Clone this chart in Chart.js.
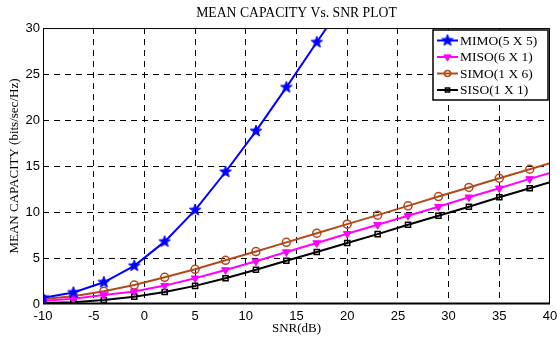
<!DOCTYPE html>
<html>
<head>
<meta charset="utf-8">
<script src="https://cdn.jsdelivr.net/npm/chart.js@4.4.0/dist/chart.umd.min.js"></script>
<style>
    html, body { margin: 0; padding: 0; background: #fff; }
    #wrap { width: 557px; height: 337px; position: relative; }
</style>
</head>
<body>
<div id="wrap"><canvas id="chart"></canvas></div>
<script>
// SNR values in dB; markers every 3 dB, lines run on to 40
const snrDb = [-10, -7, -4, -1, 2, 5, 8, 11, 14, 17, 20, 23, 26, 29, 32, 35, 38, 40];

// Mean capacity in bits/sec/Hz
const mimo5x5 = [0.68, 1.25, 2.36, 4.15, 6.78, 10.2, 14.35, 18.8, 23.55, 28.45, 33.3];
const miso6x1 = [0.36, 0.58, 0.98, 1.36, 2.0, 2.8, 3.7, 4.64, 5.65, 6.63, 7.64, 8.62, 9.6, 10.58, 11.6, 12.58, 13.6, 14.25];
const simo1x6 = [0.54, 0.84, 1.38, 2.06, 2.9, 3.77, 4.75, 5.7, 6.7, 7.7, 8.68, 9.66, 10.67, 11.68, 12.67, 13.67, 14.65, 15.3];
const siso1x1 = [0.1, 0.2, 0.43, 0.8, 1.3, 1.97, 2.8, 3.73, 4.7, 5.65, 6.63, 7.6, 8.62, 9.6, 10.58, 11.6, 12.58, 13.25];

const xTicks = [-10, -5, 0, 5, 10, 15, 20, 25, 30, 35, 40];
const yTicks = [0, 5, 10, 15, 20, 25, 30];

const serif = '"Liberation Serif", "Times New Roman", serif';
const sans = '"Liberation Sans", Arial, sans-serif';

// five-pointed star marker
function makeStar(color, r) {
    const c = document.createElement('canvas');
    const s = Math.ceil(r * 2 + 2);
    c.width = s;
    c.height = s;
    const g = c.getContext('2d');
    g.beginPath();
    for (let i = 0; i < 10; i++) {
        const rad = i % 2 === 0 ? r : r * 0.42;
        const a = -Math.PI / 2 + i * Math.PI / 5;
        g.lineTo(s / 2 + rad * Math.cos(a), s / 2 + rad * Math.sin(a));
    }
    g.closePath();
    g.fillStyle = color;
    g.fill();
    g.strokeStyle = color;
    g.lineWidth = 1;
    g.stroke();
    return c;
}
const starMark = makeStar('#0000ff', 6);

function toPoints(values) {
    return values.map((v, i) => ({ x: snrDb[i], y: v }));
}

// only every third dB gets a marker
const markEvery3 = r => ctx => (ctx.raw && (ctx.raw.x + 10) % 3 === 0) ? r : 0;

const datasets = [
    {
        label: 'MIMO(5 X 5)',
        data: toPoints(mimo5x5),
        borderColor: '#0000ff',
        backgroundColor: '#0000ff',
        pointStyle: starMark,
        pointRadius: markEvery3(6)
    },
    {
        label: 'MISO(6 X 1)',
        data: toPoints(miso6x1),
        borderColor: '#ff00ff',
        backgroundColor: '#ff00ff',
        pointStyle: 'triangle',
        pointRotation: 180,
        pointRadius: markEvery3(4.5),
        pointBorderWidth: 1
    },
    {
        label: 'SIMO(1 X 6)',
        data: toPoints(simo1x6),
        borderColor: '#b04a1a',
        backgroundColor: 'rgba(0,0,0,0)',
        pointStyle: 'circle',
        pointRadius: markEvery3(4),
        pointBorderWidth: 1.5
    },
    {
        label: 'SISO(1 X 1)',
        data: toPoints(siso1x1),
        borderColor: '#000000',
        backgroundColor: 'rgba(0,0,0,0)',
        pointStyle: 'rect',
        pointRadius: markEvery3(3.6),
        pointBorderWidth: 1.5
    }
];

// box round the plot plus the legend in the upper right corner
const framePlugin = {
    id: 'frame',
    afterDatasetsDraw(chart) {
        const { ctx, chartArea: a } = chart;
        ctx.save();
        ctx.strokeStyle = '#000';
        ctx.lineWidth = 1;
        ctx.setLineDash([]);
        ctx.strokeRect(a.left + 0.5, a.top + 0.5, a.right - a.left - 1, a.bottom - a.top - 1);
        ctx.lineWidth = 2;
        ctx.beginPath();
        ctx.moveTo(a.left, a.bottom - 0.5);
        ctx.lineTo(a.right, a.bottom - 0.5);
        ctx.stroke();

        // legend
        const bx = 433, by = 30, bw = 115, bh = 70;
        ctx.fillStyle = '#fff';
        ctx.fillRect(bx, by, bw, bh);
        ctx.lineWidth = 1.5;
        ctx.strokeRect(bx, by, bw, bh);
        ctx.font = '13.5px ' + serif;
        ctx.textBaseline = 'middle';
        ctx.textAlign = 'left';
        const legendSizes = [5.5, 4.2, 3, 3];
        chart.data.datasets.forEach((ds, i) => {
            const y = by + 10.5 + i * 16.5;
            ctx.strokeStyle = ds.borderColor;
            ctx.lineWidth = 2;
            ctx.beginPath();
            ctx.moveTo(bx + 4, y);
            ctx.lineTo(bx + 25, y);
            ctx.stroke();
            ctx.fillStyle = ds.backgroundColor;
            ctx.lineWidth = ds.pointBorderWidth || 1;
            Chart.helpers.drawPoint(ctx, {
                pointStyle: ds.pointStyle,
                rotation: ds.pointRotation || 0,
                radius: legendSizes[i],
                borderWidth: ds.pointBorderWidth || 1
            }, bx + 14.5, y);
            ctx.fillStyle = '#000';
            ctx.fillText(ds.label, bx + 27, y + 0.5);
        });
        ctx.restore();
    }
};

const ctx = document.getElementById('chart').getContext('2d');
new Chart(ctx, {
    type: 'line',
    data: { datasets },
    options: {
        responsive: true,
        maintainAspectRatio: false,
        animation: false,
        layout: { padding: { left: 0, right: 6, top: 0, bottom: 0 } },
        elements: {
            line: { borderWidth: 2, tension: 0 }
        },
        plugins: {
            legend: { display: false },
            tooltip: { enabled: false },
            title: {
                display: true,
                fullSize: false,
                text: 'MEAN CAPACITY Vs. SNR PLOT',
                color: '#000',
                font: { family: serif, size: 13.7, weight: 'normal' },
                padding: { top: 5, bottom: 6.6 }
            }
        },
        scales: {
            x: {
                type: 'linear',
                min: -10,
                max: 40,
                afterBuildTicks: s => { s.ticks = xTicks.map(v => ({ value: v })); },
                afterFit: s => {
                    s.height = 33;
                    // let the last label run off the canvas edge
                    s.paddingRight = 0;
                    s.paddingLeft = 0;
                },
                border: { display: false, dash: [6, 5] },
                grid: {
                    color: ctx => (ctx.tick && (ctx.tick.value === -10 || ctx.tick.value === 40)) ? 'rgba(0,0,0,0)' : '#000',
                    lineWidth: 1,
                    drawTicks: false
                },
                ticks: {
                    color: '#000',
                    font: { family: sans, size: 13 },
                    padding: 5,
                    maxRotation: 0,
                    autoSkip: false
                },
                title: {
                    display: true,
                    text: 'SNR(dB)',
                    color: '#000',
                    font: { family: serif, size: 13 },
                    padding: { top: 0, bottom: 1 }
                }
            },
            y: {
                min: 0,
                max: 30,
                afterBuildTicks: s => { s.ticks = yTicks.map(v => ({ value: v })); },
                afterFit: s => { s.width = 43; },
                border: { display: false, dash: [6, 5] },
                grid: {
                    color: ctx => (ctx.tick && (ctx.tick.value === 0 || ctx.tick.value === 30)) ? 'rgba(0,0,0,0)' : '#000',
                    lineWidth: 1,
                    drawTicks: false
                },
                ticks: {
                    color: '#000',
                    font: { family: sans, size: 13 },
                    padding: 3
                },
                title: {
                    display: true,
                    text: 'MEAN CAPACITY (bits/sec/Hz)',
                    color: '#000',
                    font: { family: serif, size: 13 },
                    padding: { top: 7, bottom: 0 }
                }
            }
        }
    },
    plugins: [framePlugin]
});
</script>
</body>
</html>
